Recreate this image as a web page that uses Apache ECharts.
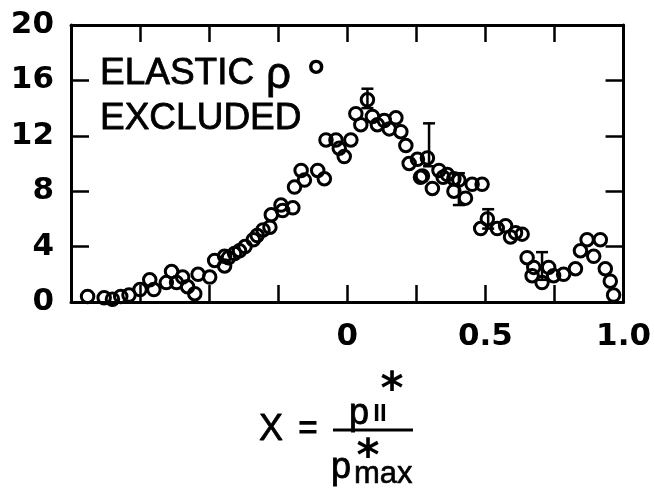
<!DOCTYPE html>
<html>
<head>
<meta charset="utf-8">
<script src="https://cdn.jsdelivr.net/npm/echarts@6/dist/echarts.min.js"></script>
<style>html,body{margin:0;padding:0;background:#fff}#c{width:654px;height:489px}</style>
</head>
<body>
<div id="c"></div>
<script>
// Data
var xValues = [-0.94,-0.88,-0.85,-0.82,-0.79,-0.75,-0.715,-0.70,-0.655,-0.636,-0.618,-0.596,-0.578,-0.552,-0.540,-0.498,-0.480,-0.444,-0.444,-0.43,-0.408,-0.39,-0.37,-0.34,-0.326,-0.305,-0.28,-0.275,-0.24,-0.234,-0.197,-0.191,-0.167,-0.155,-0.107,-0.083,-0.077,-0.041,-0.029,-0.011,0.013,0.031,0.049,0.073,0.091,0.109,0.134,0.152,0.176,0.194,0.212,0.224,0.254,0.265,0.272,0.290,0.308,0.332,0.347,0.362,0.386,0.386,0.404,0.428,0.452,0.488,0.483,0.507,0.543,0.573,0.591,0.609,0.633,0.651,0.669,0.675,0.705,0.729,0.747,0.783,0.826,0.844,0.868,0.892,0.916,0.934,0.952,0.964];
var yValues = [0.4,0.3,0.2,0.4,0.5,0.9,1.6,0.9,1.4,2.2,1.4,1.8,1.1,0.6,2.0,1.8,3.0,3.3,2.6,3.2,3.5,3.7,4.0,4.5,4.8,5.2,5.4,6.3,7.0,6.6,6.8,8.3,9.5,8.8,9.5,8.9,11.7,11.7,11.1,10.5,11.7,13.6,12.8,14.6,13.4,12.8,13.1,12.5,13.3,12.3,11.3,10.0,10.3,9.0,9.1,10.4,8.2,9.5,9.0,9.2,8.9,8.0,8.8,7.5,8.5,8.5,5.3,6.0,5.3,5.5,4.7,5.0,4.9,3.2,1.9,2.5,1.4,2.5,1.9,2.0,2.4,3.7,4.5,3.3,4.5,2.4,1.5,0.5];
var errX    = [0.073, 0.296, 0.404, 0.510, 0.705];
var errLow  = [14.0, 9.8, 7.0, 5.3, 1.6];
var errHigh = [15.4, 12.9, 9.3, 6.7, 3.6];
var xLabelValues = [0, 0.5, 1.0];
var xLabelTexts  = ['0', '0.5', '1.0'];

var points = xValues.map(function (x, i) { return [x, yValues[i]]; });
var errData = errX.map(function (x, i) { return [x, errLow[i], errHigh[i]]; });

var chart = echarts.init(document.getElementById('c'), null, {renderer: 'canvas'});
var labelFont = {fontFamily: 'DejaVu Sans', fontSize: 31, fontWeight: 'bold', color: '#000'};
var axisLineStyle = {color: '#000', width: 3};
var tickStyle = {color: '#000', width: 2.5};

function xFmt(v) {
  for (var i = 0; i < xLabelValues.length; i++) {
    if (Math.abs(v - xLabelValues[i]) < 1e-6) return xLabelTexts[i];
  }
  return '';
}

var option = {
  animation: false,
  backgroundColor: '#fff',
  grid: {left: 71, right: 29, top: 25, bottom: 187, containLabel: false},
  xAxis: [
    {type: 'value', position: 'bottom', min: -1, max: 1, interval: 0.25,
     axisLine: {show: true, onZero: false, lineStyle: axisLineStyle},
     axisTick: {show: true, inside: true, length: 17, lineStyle: tickStyle},
     axisLabel: Object.assign({show: true, margin: 19, formatter: xFmt, showMinLabel: true, showMaxLabel: true}, labelFont),
     splitLine: {show: false}},
    {type: 'value', position: 'top', min: -1, max: 1, interval: 0.25,
     axisLine: {show: true, onZero: false, lineStyle: axisLineStyle},
     axisTick: {show: true, inside: true, length: 17, lineStyle: tickStyle},
     axisLabel: {show: false}, splitLine: {show: false}}
  ],
  yAxis: [
    {type: 'value', position: 'left', min: 0, max: 20, interval: 4,
     axisLine: {show: true, onZero: false, lineStyle: axisLineStyle},
     axisTick: {show: true, inside: true, length: 18, lineStyle: tickStyle},
     axisLabel: Object.assign({show: true, margin: 17}, labelFont),
     splitLine: {show: false}},
    {type: 'value', position: 'right', min: 0, max: 20, interval: 4,
     axisLine: {show: true, onZero: false, lineStyle: axisLineStyle},
     axisTick: {show: true, inside: true, length: 18, lineStyle: tickStyle},
     axisLabel: {show: false}, splitLine: {show: false}}
  ],
  series: [
    {type: 'custom', xAxisIndex: 0, yAxisIndex: 0, data: errData, z: 3,
     renderItem: function (params, api) {
       var top = api.coord([api.value(0), api.value(2)]);
       var bot = api.coord([api.value(0), api.value(1)]);
       var hw = 6;
       var st = {stroke: '#000', lineWidth: 2.5};
       return {type: 'group', children: [
         {type: 'line', shape: {x1: top[0], y1: top[1], x2: bot[0], y2: bot[1]}, style: st},
         {type: 'line', shape: {x1: top[0]-hw, y1: top[1], x2: top[0]+hw, y2: top[1]}, style: st},
         {type: 'line', shape: {x1: bot[0]-hw, y1: bot[1], x2: bot[0]+hw, y2: bot[1]}, style: st}
       ]};
     }},
    {type: 'scatter', xAxisIndex: 0, yAxisIndex: 0, data: points, symbol: 'circle', symbolSize: 12.5, z: 4,
     itemStyle: {color: 'rgba(255,255,255,0)', borderColor: '#000', borderWidth: 3, opacity: 1}}
  ],
  graphic: [
    {type: 'text', style: {text: 'ELASTIC', x: 100, y: 74, font: '37px "Liberation Sans"', fill: '#000', stroke: '#000', lineWidth: 0.8, textVerticalAlign: 'middle'}},
    {type: 'text', style: {text: 'ρ', x: 266, y: 76, font: '44px "Liberation Sans"', fill: '#000', stroke: '#000', lineWidth: 0.8, textVerticalAlign: 'middle'}},
    {type: 'text', style: {text: '°', x: 307, y: 79, font: 'bold 46px "Liberation Sans"', fill: '#000', textVerticalAlign: 'middle'}},
    {type: 'text', style: {text: 'EXCLUDED', x: 100, y: 119, font: '37px "Liberation Sans"', fill: '#000', stroke: '#000', lineWidth: 0.8, textVerticalAlign: 'middle'}},
    {type: 'text', style: {text: 'X', x: 271, y: 430, font: '36px "Liberation Sans"', fill: '#000', stroke: '#000', lineWidth: 0.8, textAlign: 'center', textVerticalAlign: 'middle'}},
    {type: 'text', style: {text: '=', x: 308, y: 430, font: 'bold 34px "Liberation Sans"', fill: '#000', textAlign: 'center', textVerticalAlign: 'middle'}},
    {type: 'line', shape: {x1: 333, y1: 430, x2: 413, y2: 430}, style: {stroke: '#000', lineWidth: 3}},
    {type: 'text', style: {text: 'p', x: 359, y: 414, font: '36px "Liberation Sans"', fill: '#000', stroke: '#000', lineWidth: 0.8, textAlign: 'center', textVerticalAlign: 'middle'}},
    {type: 'text', style: {text: 'II', x: 380, y: 414, font: 'bold 24px "Liberation Sans"', fill: '#000', textAlign: 'center', textVerticalAlign: 'middle'}},
    {type: 'text', style: {text: '*', x: 392, y: 392, font: 'bold 44px "DejaVu Sans"', fill: '#000', textAlign: 'center', textVerticalAlign: 'middle'}},
    {type: 'text', style: {text: 'p', x: 341, y: 468, font: '36px "Liberation Sans"', fill: '#000', stroke: '#000', lineWidth: 0.8, textAlign: 'center', textVerticalAlign: 'middle'}},
    {type: 'text', style: {text: '*', x: 368, y: 459, font: 'bold 44px "DejaVu Sans"', fill: '#000', textAlign: 'center', textVerticalAlign: 'middle'}},
    {type: 'text', style: {text: 'max', x: 354, y: 474, font: '31px "Liberation Sans"', fill: '#000', stroke: '#000', lineWidth: 0.6, textAlign: 'left', textVerticalAlign: 'middle'}}
  ]
};
chart.setOption(option);
</script>
</body>
</html>
